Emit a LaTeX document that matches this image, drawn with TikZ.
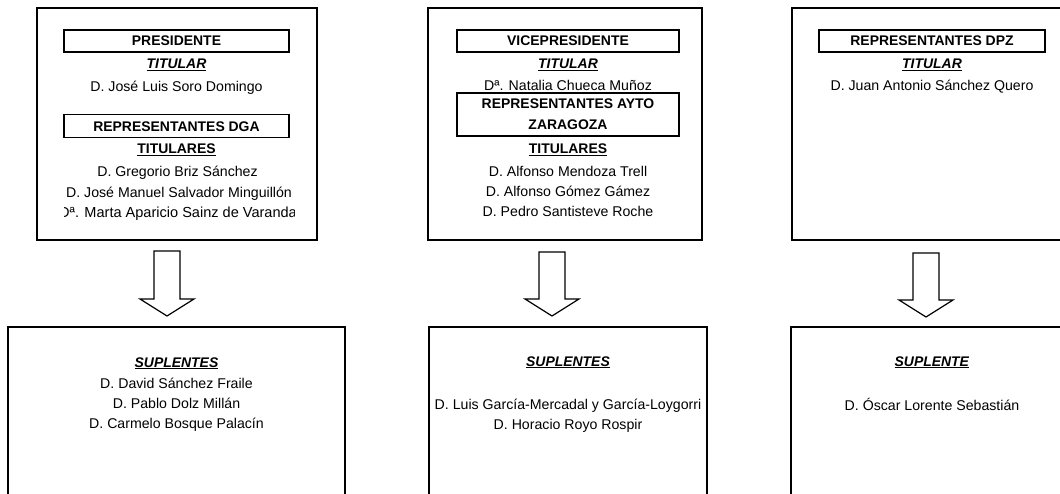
\documentclass[tikz,border=0pt]{standalone}
\usepackage{fontspec}
\setmainfont{Liberation Sans}
\begin{document}
\begin{tikzpicture}[x=1bp,y=-1bp,
  outer/.style={draw,line width=2bp,inner sep=0pt},
  hbox/.style={draw,line width=1.8bp,inner sep=0pt},
  txt/.style={font=\fontsize{14.2}{16}\selectfont,inner sep=0pt,text height=10bp,text depth=0pt,anchor=center},
  hd/.style={txt,font=\fontsize{14}{16}\selectfont\bfseries},
  blockarrow/.style={draw,line width=1.2bp,fill=white,line join=miter}]
\useasboundingbox (0,0) rectangle (1060,494);
\clip (0,0) rectangle (1060,494);

% top boxes
\node[outer,minimum width=280bp,minimum height=232bp] (t1) at (177,124) {};
\node[outer,minimum width=274bp,minimum height=232bp] (t2) at (565,124) {};
\node[outer,minimum width=283bp,minimum height=232bp] (t3) at (933.5,124) {};

% column 1
\node[hbox,minimum width=225bp,minimum height=22bp] (h1) at (176.5,41) {};
\node[hd] (h1t) at (176.5,41) {PRESIDENTE};
\node[hd] (s1) at (176.5,64) {\underline{\textit{TITULAR}}};
\node[txt] (n1) at (176.5,87) {D. José Luis Soro Domingo};
\node[hbox,minimum width=225bp,minimum height=23bp] (h2) at (176.5,126) {};
\node[hd] (h2t) at (176.5,127) {REPRESENTANTES DGA};
\node[hd] (s2) at (176.5,149) {\underline{TITULARES}};
\begin{scope}
\clip (64,160) rectangle (294,225);
\node[txt] (n2) at (177.5,172) {D. Gregorio Briz Sánchez};
\node[txt] (n3) at (179,193) {D. José Manuel Salvador Minguillón};
\node[txt,font=\fontsize{14.6}{16}\selectfont] (n4) at (178,212.5) {Dª. Marta Aparicio Sainz de Varanda};
\end{scope}

% column 2
\node[hbox,minimum width=222bp,minimum height=22bp] (h3) at (568,41) {};
\node[hd] (h3t) at (568,41) {VICEPRESIDENTE};
\node[hd] (s3) at (568,64) {\underline{\textit{TITULAR}}};
\node[txt] (n5) at (568,86) {Dª. Natalia Chueca Muñoz};
\node[hbox,minimum width=222bp,minimum height=43bp] (h4) at (568,114.5) {};
\node[hd] (h4a) at (568,104) {REPRESENTANTES AYTO};
\node[hd] (h4b) at (568,125) {ZARAGOZA};
\node[hd] (s4) at (568,149) {\underline{TITULARES}};
\node[txt] (n6) at (568,172) {D. Alfonso Mendoza Trell};
\node[txt] (n7) at (568,192) {D. Alfonso Gómez Gámez};
\node[txt] (n8) at (568,212) {D. Pedro Santisteve Roche};

% column 3
\node[hbox,minimum width=226bp,minimum height=22bp] (h5) at (932,41) {};
\node[hd] (h5t) at (932,41) {REPRESENTANTES DPZ};
\node[hd] (s5) at (932,64) {\underline{\textit{TITULAR}}};
\node[txt] (n9) at (932,86) {D. Juan Antonio Sánchez Quero};

% arrows
\draw[blockarrow] (154,251) -- (180,251) -- (180,299) -- (194,299) -- (167,316) -- (140,299) -- (154,299) -- cycle;
\draw[blockarrow] (539,252) -- (565,252) -- (565,299) -- (579,299) -- (552,316) -- (525,299) -- (539,299) -- cycle;
\draw[blockarrow] (913,253) -- (939,253) -- (939,300) -- (953,300) -- (926,317) -- (899,300) -- (913,300) -- cycle;

% bottom boxes
\node[outer,minimum width=337bp,minimum height=200bp] (b1) at (176.5,427) {};
\node[outer,minimum width=278bp,minimum height=200bp] (b2) at (568,427) {};
\node[outer,minimum width=284bp,minimum height=200bp] (b3) at (933,427) {};

\node[hd] (s6) at (176.5,362) {\underline{\textit{SUPLENTES}}};
\node[txt] (m1) at (176.5,383) {D. David Sánchez Fraile};
\node[txt] (m2) at (176.5,403) {D. Pablo Dolz Millán};
\node[txt] (m3) at (176.5,423) {D. Carmelo Bosque Palacín};

\node[hd] (s7) at (568,361) {\underline{\textit{SUPLENTES}}};
\node[txt] (m4) at (568,404) {D. Luis García-Mercadal y García-Loygorri};
\node[txt] (m5) at (568,424) {D. Horacio Royo Rospir};

\node[hd] (s8) at (932,361) {\underline{\textit{SUPLENTE}}};
\node[txt] (m6) at (932,405) {D. Óscar Lorente Sebastián};
\end{tikzpicture}
\end{document}
